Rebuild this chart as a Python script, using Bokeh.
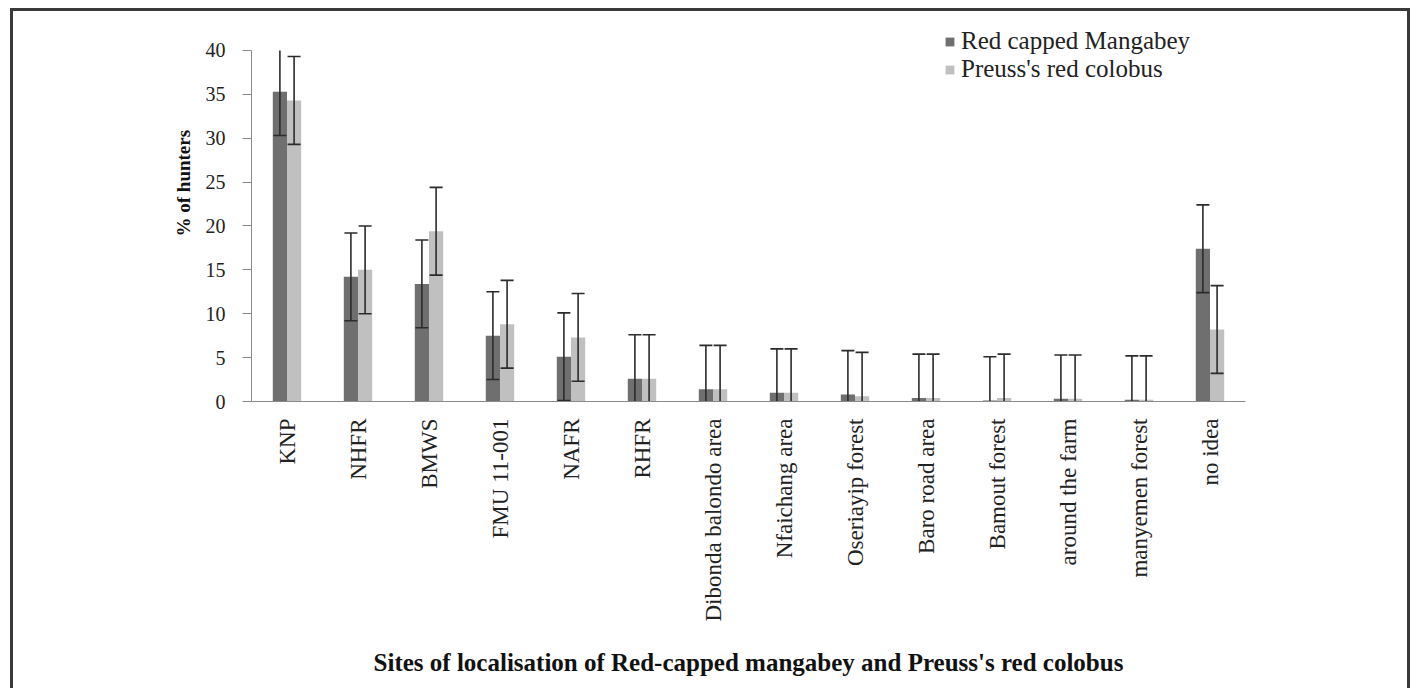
import math
from bokeh.plotting import figure
from bokeh.models import (ColumnDataSource, FactorRange, Range1d, Legend, LegendItem,
                          Title, FixedTicker)
from bokeh.transform import dodge
from bokeh.embed import file_html
from bokeh.resources import INLINE

# ---- data ----
sites = ["KNP", "NHFR", "BMWS", "FMU 11-001", "NAFR", "RHFR", "Dibonda balondo area",
         "Nfaichang area", "Oseriayip forest", "Baro road area", "Bamout forest",
         "around the farm", "manyemen forest", "no idea"]
mangabey = [35.3, 14.2, 13.4, 7.5, 5.1, 2.6, 1.4, 1.0, 0.8, 0.4, 0.1, 0.3, 0.2, 17.4]
colobus = [34.3, 15.0, 19.4, 8.8, 7.3, 2.6, 1.4, 1.0, 0.6, 0.4, 0.4, 0.3, 0.2, 8.2]
err_mangabey = [5.0, 5.0, 5.0, 5.0, 5.0, 5.0, 5.0, 5.0, 5.0, 5.0, 5.0, 5.0, 5.0, 5.0]
err_colobus = [5.0, 5.0, 5.0, 5.0, 5.0, 5.0, 5.0, 5.0, 5.0, 5.0, 5.0, 5.0, 5.0, 5.0]
y_ticks = [0, 5, 10, 15, 20, 25, 30, 35, 40]

series_names = ["Red capped Mangabey", "Preuss's red colobus"]
x_title = "Sites of localisation of Red-capped mangabey and Preuss's red colobus"
y_title = "% of hunters"

# ---- styles ----
FONT = "Liberation Serif"
DARK = "#6f6f6f"
LIGHT = "#c0c0c0"
ERR = "#2b2b2b"
AXIS = "#8a8a8a"

y_min, y_max = y_ticks[0], y_ticks[-1]

def lo_hi(vals, errs):
    lo = [v - e for v, e in zip(vals, errs)]
    hi = [min(v + e, y_max) for v, e in zip(vals, errs)]
    return lo, hi

m_lo, m_hi = lo_hi(mangabey, err_mangabey)
c_lo, c_hi = lo_hi(colobus, err_colobus)

src = ColumnDataSource(dict(site=sites, mang=mangabey, colo=colobus,
                            mang_lo=m_lo, mang_hi=m_hi, colo_lo=c_lo, colo_hi=c_hi))

# caps only where the whisker end lies inside the axis range
def cap_source(hi_vals, raw_vals, errs):
    keep = [i for i in range(len(sites)) if raw_vals[i] + errs[i] <= y_max]
    return ColumnDataSource(dict(site=[sites[i] for i in keep], y=[hi_vals[i] for i in keep]))

p = figure(width=1400, height=680, output_backend="svg", toolbar_location=None,
           x_range=FactorRange(factors=sites, range_padding=0),
           y_range=Range1d(0, 43.41),
           min_border_left=238, min_border_right=168, min_border_top=9,
           min_border_bottom=290)
p.styles = {"border-left": "3px solid #3a3a3a", "border-top": "3px solid #3a3a3a",
            "border-right": "3px solid #3a3a3a", "margin-left": "10px",
            "margin-top": "8px"}
p.outline_line_color = None
p.xgrid.visible = False
p.ygrid.visible = False
p.background_fill_color = "white"
p.border_fill_color = "white"

off = 0.1
w = 0.2
r1 = p.vbar(x=dodge("site", -off, range=p.x_range), top="mang", width=w, bottom=0,
            source=src, fill_color=DARK, line_color=None)
r2 = p.vbar(x=dodge("site", off, range=p.x_range), top="colo", width=w, bottom=0,
            source=src, fill_color=LIGHT, line_color=None)

for o, lo, hi, vals, errs in ((-off, "mang_lo", "mang_hi", mangabey, err_mangabey),
                              (off, "colo_lo", "colo_hi", colobus, err_colobus)):
    xx = dodge("site", o, range=p.x_range)
    p.segment(x0=xx, y0=lo, x1=xx, y1=hi, source=src, line_color=ERR, line_width=1.6)
    p.scatter(x=xx, y=lo, source=src, marker="dash", size=13, line_color=ERR, line_width=1.6)
    cs = cap_source(src.data[hi], vals, errs)
    p.scatter(x=dodge("site", o, range=p.x_range), y="y", source=cs, marker="dash",
              size=13, line_color=ERR, line_width=1.6)

# y axis
ya = p.yaxis[0]
ya.bounds = (y_min, y_max)
ya.ticker = FixedTicker(ticks=y_ticks)
ya.axis_line_color = AXIS
ya.major_tick_line_color = AXIS
ya.major_tick_in = 0
ya.major_tick_out = 9
ya.minor_tick_line_color = None
ya.major_label_text_font = FONT
ya.major_label_text_font_size = "20px"
ya.major_label_text_color = "#222222"
ya.major_label_standoff = 17

# x axis
xa = p.xaxis[0]
xa.axis_line_color = AXIS
xa.major_tick_line_color = None
xa.minor_tick_line_color = None
xa.major_label_orientation = math.pi / 2
xa.major_label_text_font = FONT
xa.major_label_text_font_size = "23px"
xa.major_label_text_color = "#222222"
xa.major_label_standoff = 11
xa.axis_label = x_title
xa.axis_label_text_font = FONT
xa.axis_label_text_font_style = "bold"
xa.axis_label_text_font_size = "25px"
xa.axis_label_text_color = "#111111"
xa.axis_label_standoff = 24

# y title in the left panel, placed like the reference
yt = Title(text=y_title, align="left", offset=165, vertical_align="bottom",
           standoff=18, text_font=FONT, text_font_style="bold",
           text_font_size="19px", text_color="#111111")
p.add_layout(yt, "left")

legend = Legend(items=[LegendItem(label=series_names[0], renderers=[r1]),
                       LegendItem(label=series_names[1], renderers=[r2])],
                location=(693, 318))
legend.background_fill_alpha = 0
legend.border_line_color = None
legend.padding = 0
legend.margin = 0
legend.glyph_width = 11
legend.glyph_height = 11
legend.label_standoff = 6
legend.spacing = 0
legend.label_height = 20
legend.label_text_font = FONT
legend.label_text_font_size = "25px"
legend.label_text_color = "#222222"
p.add_layout(legend)

open("out.html", "w").write(file_html(p, INLINE))
